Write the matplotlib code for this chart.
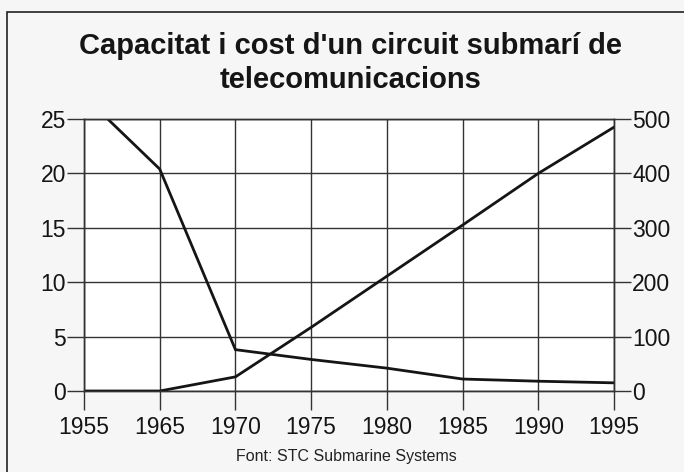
import matplotlib
matplotlib.use("Agg")
from matplotlib import pyplot as plt
from matplotlib.patches import Rectangle

plt.rcParams['font.family'] = ['Liberation Sans', 'DejaVu Sans']

# data
years = ['1955', '1965', '1970', '1975', '1980', '1985', '1990', '1995']
cost = [27.1, 20.4, 3.8, 2.9, 2.1, 1.1, 0.9, 0.75]          # left axis
capacity = [0, 0, 26, 117, 211, 305, 400, 485]              # right axis
left_ticks = [0, 5, 10, 15, 20, 25]
right_ticks = [0, 100, 200, 300, 400, 500]

fig = plt.figure(figsize=(6.84, 4.72), dpi=100)
fig.patch.set_facecolor('#f6f6f6')

# frame around the whole graphic
fig.patches.append(Rectangle((7/684, -0.02), 1.0, 1.02 - 12/472, transform=fig.transFigure,
                             fill=False, edgecolor='#222222', linewidth=1.2))

ax = fig.add_axes([84/684, 1 - 391/472, 530/684, 272/472])
ax.set_facecolor('white')
ax2 = ax.twinx()

x = list(range(len(years)))
ax.plot(x, cost, color='#151515', linewidth=2.0, solid_joinstyle='miter')
ax2.plot(x, capacity, color='#151515', linewidth=2.0, solid_joinstyle='miter')

ax.set_xlim(0, len(years) - 1)
ax.set_ylim(0, 25)
ax2.set_ylim(0, 500)
ax.set_xticks(x)
ax.set_xticklabels(years)
ax.set_yticks(left_ticks)
ax2.set_yticks(right_ticks)

ax.grid(True, color='#333333', linewidth=1.0)
ax.set_axisbelow(True)

for a in (ax, ax2):
    for s in a.spines.values():
        s.set_color('#333333')
        s.set_linewidth(1.0)
    a.tick_params(direction='out', length=12, width=1.0, color='#333333',
                  labelsize=16.5, labelcolor='#151515')
ax.tick_params(axis='y', pad=1)
ax2.tick_params(axis='y', pad=1)
ax.tick_params(axis='x', length=14, pad=4)

fig.text(0.512, 1 - 63/472, "Capacitat i cost d'un circuit submarí de\ntelecomunicacions",
         ha='center', va='center', fontsize=21, fontweight='bold', color='#151515',
         linespacing=1.25)
fig.text(0.507, 1 - 456/472, "Font: STC Submarine Systems", ha='center', va='center',
         fontsize=11.5, color='#222222')

fig.savefig('out.png', dpi=100, facecolor=fig.get_facecolor())
